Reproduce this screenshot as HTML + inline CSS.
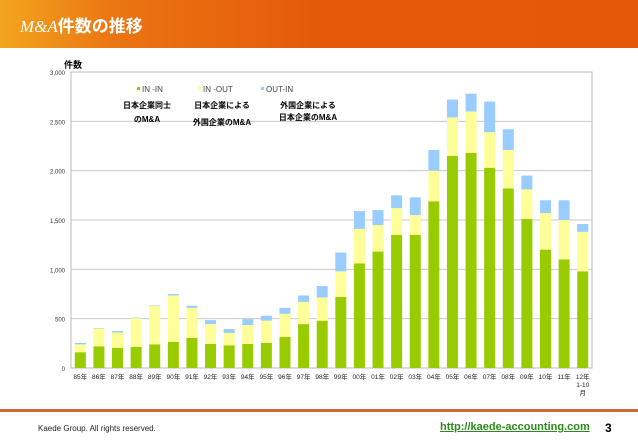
<!DOCTYPE html>
<html><head><meta charset="utf-8"><style>
body{margin:0;width:638px;height:442px;overflow:hidden;background:#fff;font-family:"Liberation Sans","Noto Sans CJK JP",sans-serif;position:relative}
.hdr{position:absolute;left:0;top:0;width:638px;height:48px;background:linear-gradient(90deg,#f3a51e 0%,#ea7512 18%,#e55a0a 50%,#e4580a 100%)}
.ttl{position:absolute;left:20px;top:12px;color:#fff;font-size:17px;font-weight:bold}
.ttl i{font-family:"Liberation Serif",serif;font-weight:normal}
.foot{position:absolute;left:0;top:409px;width:638px;height:3px;background:#d06a30}
</style></head><body>
<div class="hdr"></div>
<div class="ttl"><i>M&amp;A</i>件数の推移</div>
<svg id="chart" width="638" height="442" style="position:absolute;left:0;top:0"></svg>
<div class="foot"></div>
<div style="position:absolute;left:38px;top:424px;font-size:8px;color:#222">Kaede Group. All rights reserved.</div>
<div style="position:absolute;left:440px;top:421px;font-size:11px;font-weight:bold;color:#2a8a1a;text-decoration:underline">http://kaede-accounting.com</div>
<div style="position:absolute;left:605px;top:421px;font-size:12px;font-weight:bold;color:#000">3</div>
<script>
const categories=["85年","86年","87年","88年","89年","90年","91年","92年","93年","94年","95年","96年","97年","98年","99年","00年","01年","02年","03年","04年","05年","06年","07年","08年","09年","10年","11年","12年"];
const inIn=[160,220,205,215,240,265,305,245,230,245,255,315,445,480,720,1060,1180,1350,1350,1690,2150,2180,2030,1820,1510,1200,1100,980];
const inOut=[80,180,155,290,390,470,305,200,125,190,225,235,225,235,260,350,270,270,200,310,390,420,360,390,300,370,400,400];
const outIn=[15,5,15,5,5,15,20,40,40,60,50,60,65,115,190,180,150,130,180,210,180,180,310,210,140,130,200,80];
const yTicks=[0,500,1000,1500,2000,2500,3000];
const yTickLabels=["0","500","1,000","1,500","2,000","2,500","3,000"];
const svg=document.getElementById('chart');const NS="http://www.w3.org/2000/svg";
const L=71,R=592,T=72,B=368,yMax=3000;
const y=v=>B-(v/yMax)*(B-T);
const step=(R-L)/categories.length;
const xc=i=>L+step*(i+0.5);
function mk(t,a,txt){const e=document.createElementNS(NS,t);for(const k in a)e.setAttribute(k,a[k]);if(txt!==undefined)e.textContent=txt;svg.appendChild(e);return e;}
yTicks.forEach((v,i)=>{
 const g=mk('line',{x1:L,x2:R,y1:y(v),y2:y(v),stroke:'#c8c8c8','stroke-width':1});
 
 
 const t=mk('text',{x:L-6,y:y(v)+3,'text-anchor':'end','font-size':6,fill:'#333'},yTickLabels[i]);
 
 
});
const fr=mk('rect',{x:L,y:T,width:R-L,height:B-T,fill:'none',stroke:'#bbb'});


const yt=mk('text',{x:64,y:68,'font-size':9,'font-weight':'bold'},'件数');


const bw=11;
categories.forEach((c,i)=>{
 const segs=[[0,inIn[i],'#99cc00','bar-in-in'],[inIn[i],inIn[i]+inOut[i],'#ffff99','bar-in-out'],[inIn[i]+inOut[i],inIn[i]+inOut[i]+outIn[i],'#99ccff','bar-out-in']];
 segs.forEach(s=>{const r=mk('rect',{x:xc(i)-bw/2,y:y(s[1]),width:bw,height:y(s[0])-y(s[1]),fill:s[2]});
 
 });
 const t=mk('text',{x:xc(i),y:B+11,'text-anchor':'middle','font-size':6.5,fill:'#222'},c);
 
 
});
const ex=[['1-10',B+19],['月',B+27]];
ex.forEach(e=>{const t=mk('text',{x:xc(27),y:e[1],'text-anchor':'middle','font-size':6.5,fill:'#222'},e[0]);

});
const leg=[[137,'#99cc00','IN -IN',['日本企業同士','のM&A'],[147,[108,122]]],[198,'#ffff99','IN -OUT',['日本企業による','外国企業のM&A'],[222,[108,125]]],[261,'#99ccff','OUT-IN',['外国企業による','日本企業のM&A'],[308,[108,120]]]];
leg.forEach(l=>{
 const s=mk('rect',{x:l[0],y:87,width:3,height:3,fill:l[1]});
 
 
 const t=mk('text',{x:l[0]+5,y:92,'font-size':8,fill:'#444'},l[2]);
 
 
 l[3].forEach((s2,j)=>{const d=mk('text',{x:l[4][0],y:l[4][1][j],'text-anchor':'middle','font-size':8,'font-weight':'bold'},s2);
 
 });
});
</script>
</body></html>
